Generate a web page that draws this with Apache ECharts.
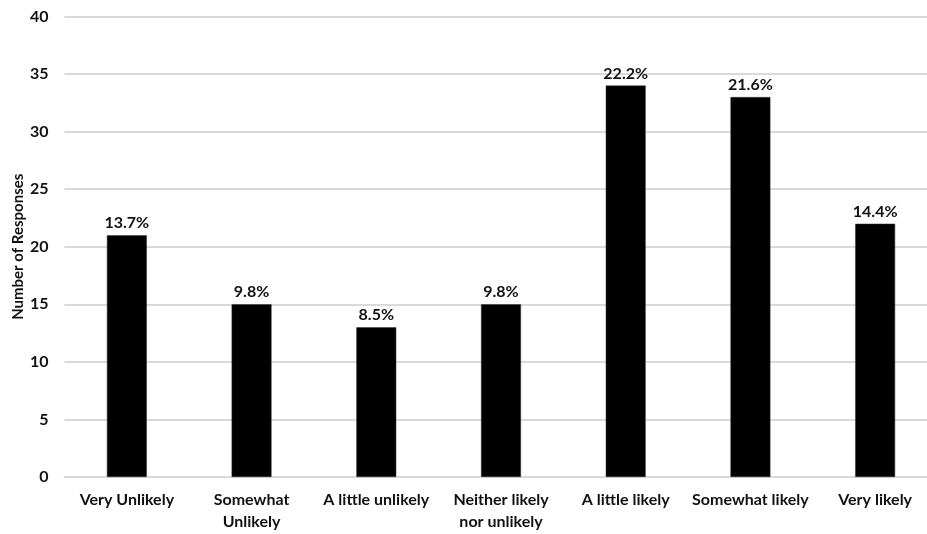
<!DOCTYPE html>
<html>
<head>
<meta charset="utf-8">
<style>
  html, body { margin: 0; padding: 0; background: #fff; }
  #chart { width: 927px; height: 534px; }
</style>
<script src="https://cdn.jsdelivr.net/npm/echarts@6/dist/echarts.min.js"></script>
</head>
<body>
<div id="chart"></div>
<script>
// Survey responses per likelihood category
const categories = [
  'Very Unlikely',
  'Somewhat\nUnlikely',
  'A little unlikely',
  'Neither likely\nnor unlikely',
  'A little likely',
  'Somewhat likely',
  'Very likely'
];
const responses = [21, 15, 13, 15, 34, 33, 22];
const shareLabels = ['13.7%', '9.8%', '8.5%', '9.8%', '22.2%', '21.6%', '14.4%'];
const yTicks = [0, 5, 10, 15, 20, 25, 30, 35, 40];

const font = 'Lato, "Open Sans", sans-serif';
const chart = echarts.init(document.getElementById('chart'));

chart.setOption({
  animation: false,
  grid: {
    left: 64.5, right: -10.5, top: 16.5, bottom: 57,
    containLabel: false, outerBoundsMode: 'none'
  },
  xAxis: {
    type: 'category',
    data: categories,
    axisTick: { show: false },
    axisLine: { show: true, lineStyle: { color: '#d9d9d9', width: 2 } },
    axisLabel: {
      color: '#111', fontFamily: font, fontWeight: 'bold', fontSize: 16,
      margin: 12, lineHeight: 22, interval: 0
    }
  },
  yAxis: {
    type: 'value',
    min: yTicks[0],
    max: yTicks[yTicks.length - 1],
    interval: 5,
    name: 'Number of Responses',
    nameLocation: 'middle',
    nameGap: 46,
    nameRotate: 90,
    nameMoveOverlap: false,
    nameTextStyle: {
      color: '#111', fontFamily: font, fontWeight: 'bold', fontSize: 15,
      verticalAlign: 'middle'
    },
    axisLine: { show: false },
    axisTick: { show: false },
    axisLabel: { color: '#111', fontFamily: font, fontWeight: 'bold', fontSize: 16, margin: 16 },
    splitLine: { lineStyle: { color: '#d9d9d9', width: 2 } }
  },
  series: [{
    type: 'bar',
    data: responses,
    barWidth: '32%',
    itemStyle: { color: '#000', borderColor: '#333', borderWidth: 0.5 },
    label: {
      show: true,
      position: 'top',
      distance: 4,
      color: '#111',
      fontFamily: font,
      fontWeight: 'bold',
      fontSize: 16,
      formatter: p => shareLabels[p.dataIndex]
    }
  }]
});
</script>
</body>
</html>
